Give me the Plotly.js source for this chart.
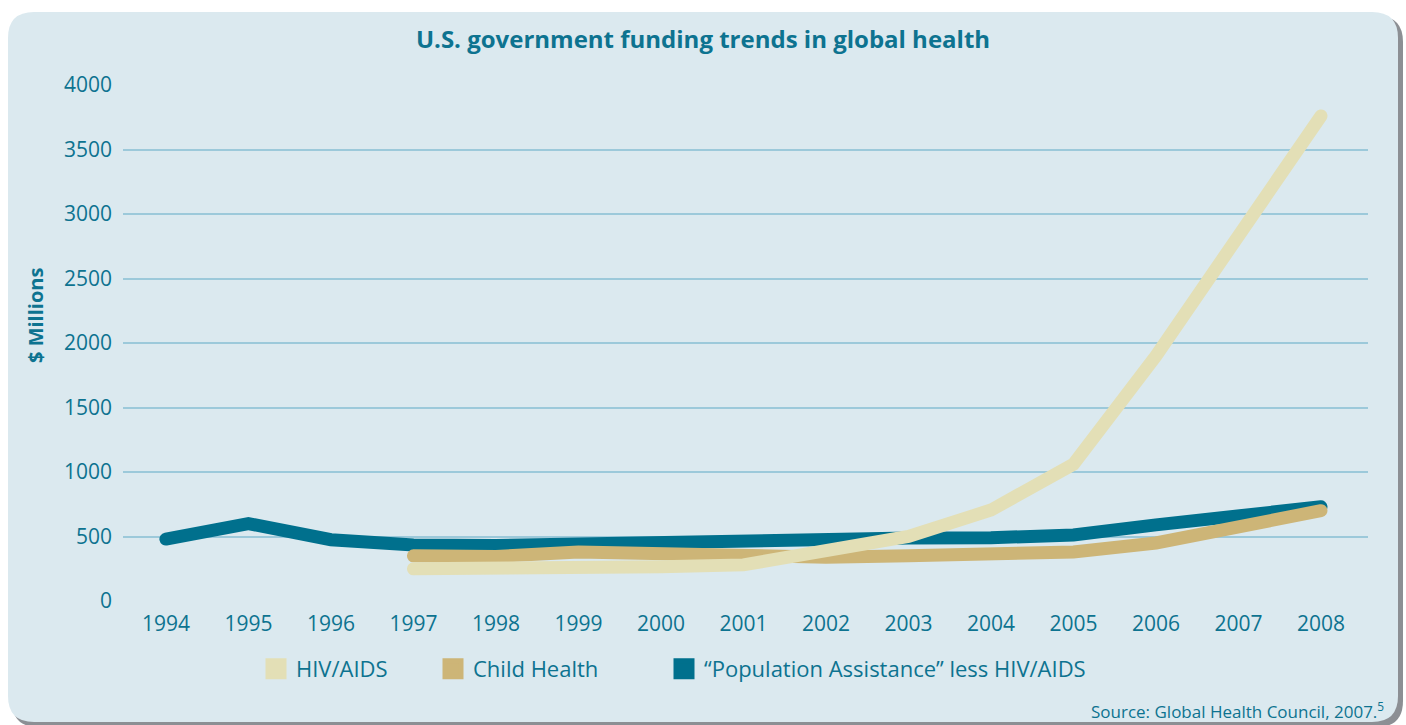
<!DOCTYPE html>
<html>
<head>
<meta charset="utf-8">
<script src="https://cdn.plot.ly/plotly-3.0.1.min.js"></script>
<style>
  html, body { margin: 0; padding: 0; background: #ffffff; }
  #chart { width: 1406px; height: 725px; }
  .scatterlayer path.js-line { stroke-linecap: round; }
</style>
</head>
<body>
<div id="chart"></div>
<script>
// ---- data ----
const years = [1994, 1995, 1996, 1997, 1998, 1999, 2000, 2001, 2002, 2003, 2004, 2005, 2006, 2007, 2008];
const popAssistance = [480, 600, 475, 435, 430, 445, 460, 480, 480, 488, 490, 512, 590, 670, 730];
const childHealth = [null, null, null, 350, 345, 380, 360, 350, 340, 350, 356, 380, 450, 580, 700];
const hivAids = [null, null, null, 250, 250, 250, 265, 280, 400, 500, 705, 1060, 1900, 2850, 3760];
const yTicks = [0, 500, 1000, 1500, 2000, 2500, 3000, 3500, 4000];
const seriesNames = ["HIV/AIDS", "Child Health", "\u201cPopulation Assistance\u201d less HIV/AIDS"];

// ---- style ----
const W = 1406, H = 725;
const M = {l: 123, r: 38, t: 85, b: 124};
const teal = "#00708d";
const tan = "#cdb577";
const pale = "#e3dfb6";
const txt = "#0d7390";
const panel = "#dbe9ef";
const FONT = "Open Sans, Noto Sans, sans-serif";

const pw = W - M.l - M.r, ph = H - M.t - M.b;
const px = v => (v - M.l) / pw;
const py = v => (H - M.b - v) / ph;

function roundRect(x0, y0, x1, y1, r) {
  const rx = r / pw, ry = r / ph;
  const a = px(x0), b = px(x1), top = py(y0), bot = py(y1);
  return `M ${a + rx},${top} L ${b - rx},${top} Q ${b},${top} ${b},${top - ry} ` +
         `L ${b},${bot + ry} Q ${b},${bot} ${b - rx},${bot} L ${a + rx},${bot} ` +
         `Q ${a},${bot} ${a},${bot + ry} L ${a},${top - ry} Q ${a},${top} ${a + rx},${top} Z`;
}

const lineTraces = [
  {x: years, y: popAssistance, color: teal},
  {x: years, y: childHealth, color: tan},
  {x: years, y: hivAids, color: pale}
].map(s => ({
  type: "scatter", mode: "lines", x: s.x, y: s.y,
  line: {color: s.color, width: 13},
  connectgaps: false, showlegend: false, hoverinfo: "x+y"
}));

const legendColors = [pale, tan, teal];
const legendIds = ["legend", "legend2", "legend3"];
const legendTraces = seriesNames.map((n, i) => ({
  type: "scatter", mode: "markers", x: [null], y: [null], name: n,
  marker: {symbol: "square", size: 16, color: legendColors[i], line: {color: legendColors[i], width: 5}},
  showlegend: true, legend: legendIds[i]
}));

const legendBase = {
  orientation: "h", yanchor: "middle", xanchor: "left",
  y: py(669), bgcolor: "rgba(0,0,0,0)",
  font: {family: FONT, size: 22, color: txt}, itemclick: false
};

const layout = {
  width: W, height: H,
  margin: M,
  paper_bgcolor: "#ffffff",
  plot_bgcolor: "rgba(0,0,0,0)",
  title: {
    text: "<b>U.S. government funding trends in global health</b>",
    x: 0.5, xref: "container", y: 1 - 40 / H, yref: "container", yanchor: "middle",
    font: {family: FONT, size: 24, color: txt}
  },
  xaxis: {
    range: [1993.48, 2008.57], tickvals: years, ticktext: years.map(String),
    showgrid: false, zeroline: false, showline: false, ticks: "",
    tickfont: {family: FONT, size: 21, color: txt}, ticklabelstandoff: 8, fixedrange: true
  },
  yaxis: {
    range: [0, 4000], tickvals: yTicks, ticks: "",
    showgrid: true, gridcolor: "#9cc9da", gridwidth: 2,
    zeroline: false, showline: false,
    tickfont: {family: FONT, size: 21, color: txt}, ticklabelstandoff: 10, fixedrange: true
  },
  legend: Object.assign({}, legendBase, {x: px(256)}),
  legend2: Object.assign({}, legendBase, {x: px(433)}),
  legend3: Object.assign({}, legendBase, {x: px(664)}),
  shapes: [
    {type: "path", xref: "paper", yref: "paper", path: roundRect(12, 16, 1403, 727, 26),
     fillcolor: "#8c8f94", line: {width: 0}, layer: "below"},
    {type: "path", xref: "paper", yref: "paper", path: roundRect(8, 12, 1398, 722, 26),
     fillcolor: panel, line: {width: 0}, layer: "below"}
  ],
  annotations: [
    {text: "<b>$ Millions</b>", textangle: -90, xref: "paper", yref: "paper",
     x: px(35), y: py(316), xanchor: "center", yanchor: "middle", showarrow: false,
     font: {family: FONT, size: 20, color: txt}},
    {text: "Source: Global Health Council, 2007.<sup>5</sup>", xref: "paper", yref: "paper",
     x: px(1386), y: py(710), xanchor: "right", yanchor: "middle", showarrow: false,
     font: {family: FONT, size: 17, color: txt}}
  ]
};

Plotly.newPlot("chart", lineTraces.concat(legendTraces), layout, {displayModeBar: false, staticPlot: true});
</script>
</body>
</html>
